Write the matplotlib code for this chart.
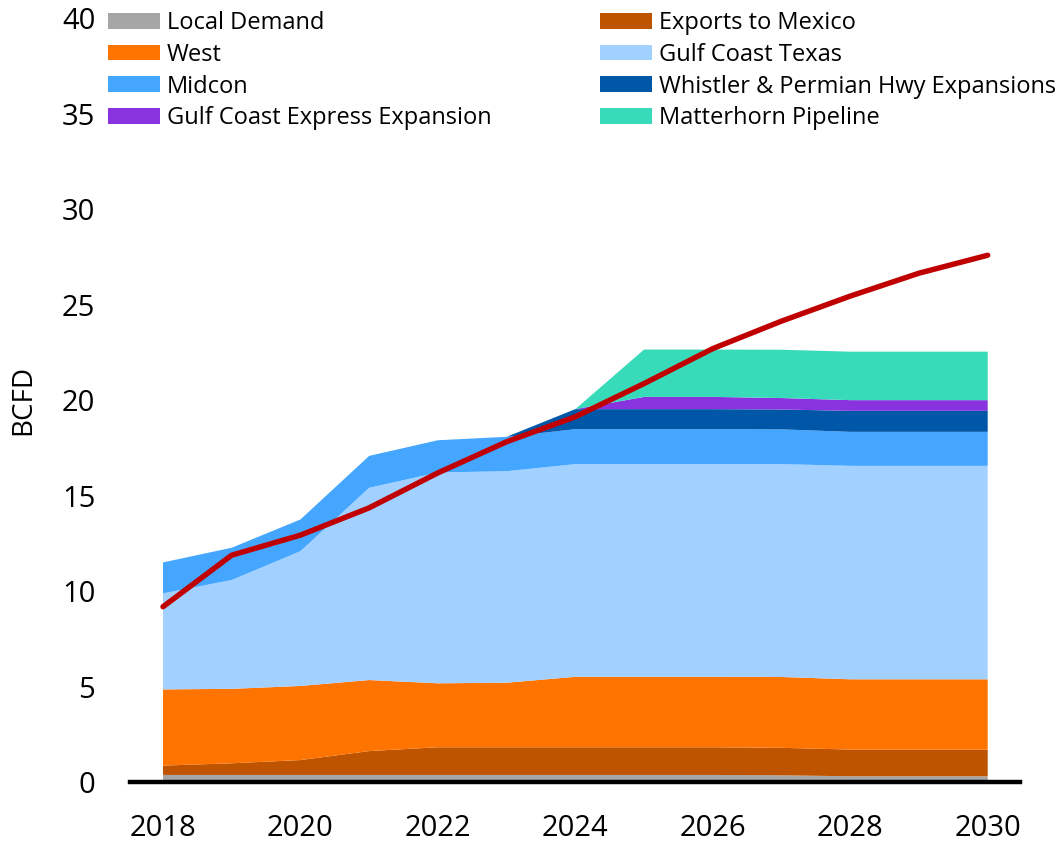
import matplotlib
matplotlib.use("Agg")
import matplotlib.pyplot as plt
from matplotlib.patches import Patch
import numpy as np

plt.rcParams['font.family'] = ['Open Sans', 'DejaVu Sans']

years = [2018, 2019, 2020, 2021, 2022, 2023, 2024, 2025, 2026, 2027, 2028, 2029, 2030]

local_demand = [0.37, 0.37, 0.37, 0.37, 0.37, 0.37, 0.37, 0.37, 0.37, 0.35, 0.30, 0.30, 0.30]
exports_mexico = [0.49, 0.61, 0.78, 1.25, 1.45, 1.45, 1.45, 1.45, 1.45, 1.44, 1.40, 1.40, 1.40]
west = [3.99, 3.90, 3.88, 3.72, 3.35, 3.38, 3.69, 3.69, 3.69, 3.71, 3.68, 3.68, 3.68]
gulf_coast_texas = [5.03, 5.70, 7.06, 10.07, 11.04, 11.08, 11.14, 11.14, 11.14, 11.15, 11.18, 11.18, 11.18]
midcon = [1.62, 1.69, 1.66, 1.67, 1.69, 1.80, 1.83, 1.83, 1.83, 1.82, 1.78, 1.78, 1.78]
whistler_phwy = [0, 0, 0, 0, 0, 0, 1.05, 1.05, 1.05, 1.04, 1.10, 1.10, 1.10]
gce_expansion = [0, 0, 0, 0, 0, 0, 0, 0.64, 0.64, 0.60, 0.56, 0.56, 0.56]
matterhorn = [0, 0, 0, 0, 0, 0, 0, 2.48, 2.48, 2.53, 2.54, 2.54, 2.54]

supply = [9.18, 11.88, 12.93, 14.36, 16.19, 17.82, 19.13, 20.87, 22.70, 24.14, 25.45, 26.65, 27.59]

labels = ["Local Demand", "Exports to Mexico", "West", "Gulf Coast Texas", "Midcon",
          "Whistler & Permian Hwy Expansions", "Gulf Coast Express Expansion", "Matterhorn Pipeline"]
colors = ["#A6A6A6", "#BF5400", "#FF7300", "#A2D1FF", "#44A6FF", "#0057A8", "#8833DD", "#38DBB9"]
series = [local_demand, exports_mexico, west, gulf_coast_texas, midcon,
          whistler_phwy, gce_expansion, matterhorn]

fig = plt.figure(figsize=(10.58, 8.43), dpi=100)
ax = fig.add_axes([130/1058, 1 - 782/843, (1020 - 130)/1058, (782 - 18.3)/843])

ax.stackplot(years, *series, colors=colors, labels=labels, linewidth=0)
ax.plot(years, supply, color="#C00000", linewidth=3.9, solid_capstyle='round', zorder=5)

ax.set_xlim(2017.52, 2030.47)
ax.set_ylim(0, 40)
ax.set_xticks([2018, 2020, 2022, 2024, 2026, 2028, 2030])
ax.set_yticks([0, 5, 10, 15, 20, 25, 30, 35, 40])
ax.tick_params(axis='both', length=0, labelsize=21)
ax.tick_params(axis='y', pad=25)
ax.tick_params(axis='x', pad=23)
for s in ['top', 'right', 'left']:
    ax.spines[s].set_visible(False)
ax.spines['bottom'].set_linewidth(3.2)
ax.spines['bottom'].set_color('black')
ax.spines['bottom'].set_zorder(6)

ax.set_ylabel("BCFD", fontsize=20)
ax.yaxis.set_label_coords(-0.104, 0.5)

handles = [Patch(facecolor=c, edgecolor='none') for c in colors]
col1 = [0, 2, 4, 6]
col2 = [1, 3, 5, 7]
leg_kw = dict(frameon=False, fontsize=17, handlelength=2.2, handleheight=0.65,
              handletextpad=0.3, labelspacing=0.33, borderpad=0, borderaxespad=0,
              loc='upper left')
leg1 = ax.legend([handles[i] for i in col1], [labels[i] for i in col1],
                 bbox_to_anchor=(108/1058, 1 - 11/843), bbox_transform=fig.transFigure, **leg_kw)
ax.add_artist(leg1)
leg2 = ax.legend([handles[i] for i in col2], [labels[i] for i in col2],
                 bbox_to_anchor=(600/1058, 1 - 11/843), bbox_transform=fig.transFigure, **leg_kw)

fig.savefig("out.png", dpi=100)
